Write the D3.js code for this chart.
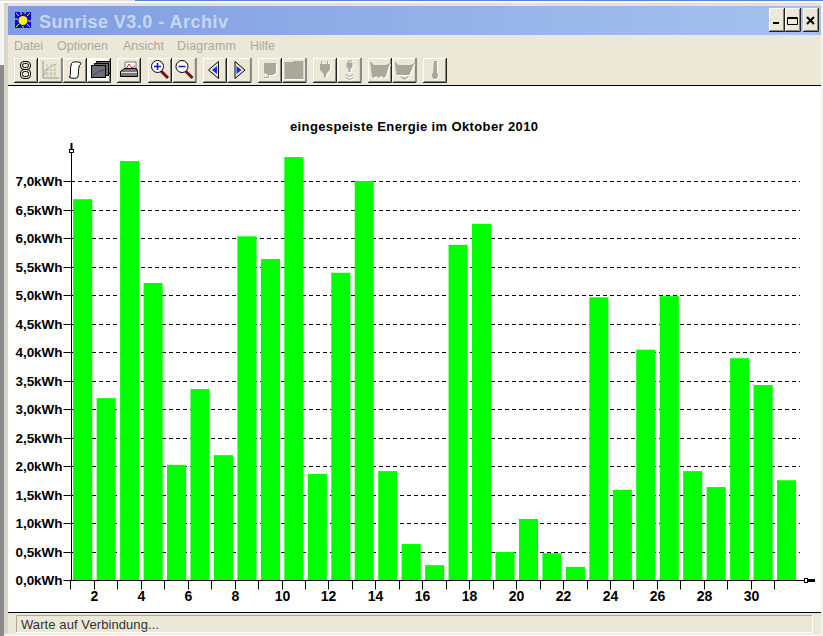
<!DOCTYPE html>
<html>
<head>
<meta charset="utf-8">
<script src="https://cdn.jsdelivr.net/npm/d3@7"></script>
<style>
html, body { margin: 0; padding: 0; background: #fff; overflow: hidden; }
svg { display: block; }
</style>
</head>
<body>
<svg width="823" height="636"></svg>
<script>
const days = d3.range(1, 32);
const energy = [6.68, 3.19, 7.35, 5.21, 2.02, 3.35, 2.19, 6.03, 5.63, 7.42, 1.86, 5.39, 7.0, 1.91, 0.63, 0.26,
    5.88, 6.25, 0.49, 1.07, 0.47, 0.23, 4.96, 1.58, 4.04, 4.98, 1.91, 1.63, 3.89, 3.42, 1.75];
const yTicks = [0, 0.5, 1, 1.5, 2, 2.5, 3, 3.5, 4, 4.5, 5, 5.5, 6, 6.5, 7];
const menuItems = ["Datei", "Optionen", "Ansicht", "Diagramm", "Hilfe"];
const menuX = [14, 57, 123, 177, 250];
const menuW = [29, 51, 41, 59, 25];
const toolX = [14, 38.5, 63, 87, 117, 148, 172.5, 203, 227.5, 258, 282.5, 313, 337.5, 368, 392.5, 423];

const svg = d3.select("svg");
const face = "#ebe8d8";
const off = "#aca899";

// window frame
svg.append("rect").attr("width", 823).attr("height", 636).attr("fill", face);
svg.append("rect").attr("width", 823).attr("height", 6).attr("fill", "#e4e2d6");
svg.append("rect").attr("width", 823).attr("height", 2).attr("y", 1).attr("fill", "#fafafa");
svg.append("rect").attr("x", 135).attr("width", 688).attr("height", 1).attr("fill", "#5f80d8");
svg.append("rect").attr("x", 0).attr("y", 65).attr("width", 4).attr("height", 571).attr("fill", "#8a8a8a");
svg.append("rect").attr("x", 0).attr("y", 3).attr("width", 4).attr("height", 62).attr("fill", "#f4f4f0");
svg.append("rect").attr("x", 4).attr("y", 3).attr("width", 4).attr("height", 633).attr("fill", "#d8d6c8");
svg.append("rect").attr("x", 821).attr("y", 3).attr("width", 2).attr("height", 633).attr("fill", "#f4f4f0");
svg.append("rect").attr("x", 4).attr("y", 634).attr("width", 819).attr("height", 2).attr("fill", "#f4f4f0");

const defs = svg.append("defs");
const titleGrad = defs.append("linearGradient").attr("id", "titleGrad");
titleGrad.append("stop").attr("offset", "0").attr("stop-color", "#7f9de0");
titleGrad.append("stop").attr("offset", "1").attr("stop-color", "#a6c3ee");
svg.append("rect").attr("x", 8).attr("y", 6).attr("width", 813).attr("height", 29).attr("fill", "url(#titleGrad)");

// sun icon
svg.append("rect").attr("x", 15).attr("y", 12).attr("width", 16).attr("height", 16).attr("fill", "#0808d8");
svg.append("circle").attr("cx", 23).attr("cy", 20.5).attr("r", 4.5).attr("fill", "#f7f020");
svg.append("path").attr("d", "M16 13l3 3M30 13l-3 3M16 27l3-3M30 27l-3-3M21 12v3M25 12v2M23 26v2M15 19h3M28 21h3")
    .attr("stroke", "#f7f020").attr("fill", "none");

svg.append("text").attr("x", 39).attr("y", 27.5).text("Sunrise V3.0 - Archiv")
    .attr("font-family", "'Liberation Sans'").attr("font-weight", "bold").attr("font-size", 18)
    .attr("textLength", 189).attr("fill", "#c6d6f4");

// bevelled button
function button(bx, by, w, h, fill) {
    const g = svg.append("g").attr("transform", `translate(${bx},${by})`);
    g.append("rect").attr("width", w).attr("height", h).attr("fill", "#fff");
    g.append("path").attr("d", `M${w - 0.5} 0V${h - 0.5}H0`).attr("fill", "none").attr("stroke", "#222");
    g.append("path").attr("d", `M${w - 1.5} 1V${h - 1.5}H1`).attr("fill", "none").attr("stroke", "#8a8778");
    g.append("rect").attr("x", 1).attr("y", 1).attr("width", w - 3).attr("height", h - 3).attr("fill", fill);
    return g;
}

// window buttons
button(769, 8, 16, 24, face).append("rect").attr("x", 4).attr("y", 14).attr("width", 6).attr("height", 2).attr("fill", "#000");
button(785, 8, 16, 24, face).append("path").attr("d", "M2.5 9.5h10v7h-10zM2.5 10.5h10").attr("fill", "none").attr("stroke", "#000");
button(803, 8, 16, 24, face).append("path").attr("d", "M4 9l7 7M11 9l-7 7").attr("stroke", "#000").attr("stroke-width", 2);

// menu
svg.selectAll(".menu").data(menuItems).enter().append("text")
    .attr("class", "menu").attr("x", (d, i) => menuX[i]).attr("y", 50).text(d => d)
    .attr("textLength", (d, i) => menuW[i])
    .attr("font-family", "'Liberation Sans'").attr("font-size", 12.5).attr("fill", off);

// toolbar icons, coordinates are relative to the button
function gray(g, d) {
    g.append("path").attr("d", d).attr("transform", "translate(1,1)").attr("fill", "#fff");
    g.append("path").attr("d", d).attr("fill", off);
}
const toolIcons = [
    g => {
        g.append("rect").attr("x", 6.5).attr("y", 3.5).attr("width", 10).attr("height", 8).attr("rx", 3.5).attr("fill", "none").attr("stroke", "#000");
        g.append("rect").attr("x", 6.5).attr("y", 11.5).attr("width", 10).attr("height", 9).attr("rx", 3.5).attr("fill", "none").attr("stroke", "#000");
        g.append("rect").attr("x", 8.5).attr("y", 5.5).attr("width", 6).attr("height", 4).attr("rx", 2).attr("fill", "none").attr("stroke", "#000");
        g.append("rect").attr("x", 8.5).attr("y", 13.5).attr("width", 6).attr("height", 5).attr("rx", 2).attr("fill", "none").attr("stroke", "#000");
    },
    g => {
        g.append("path").attr("d", "M4.5 3v17h16M4 12h14M4 16h14M8.5 6v14M12.5 6v14M16.5 6v14").attr("fill", "none").attr("stroke", off).attr("stroke-dasharray", "1,1");
        g.append("path").attr("d", "M4.5 3v17h16M5 18c3-8 7-10 13-12").attr("fill", "none").attr("stroke", off);
    },
    g => {
        g.append("path").attr("d", "M8.5 5.5c1-2 5-2 9-1 1 1 0 2-1 3-2 4 0 8-2 12-1 1-5 1-8 0 2-4 0-9 2-14z")
            .attr("fill", "#fff").attr("stroke", "#000");
    },
    g => {
        g.append("rect").attr("x", 1).attr("y", 1).attr("width", 20).attr("height", 21).attr("fill", "#fbfbf7");
        [[9.5, 3.5], [7.5, 5.5], [4.5, 7.5]].forEach(p => {
            g.append("rect").attr("x", p[0]).attr("y", p[1]).attr("width", 14).attr("height", 12).attr("fill", "#6e6e66").attr("stroke", "#000");
        });
        g.append("path").attr("d", "M6 17c3-1 5-4 11-5").attr("fill", "none").attr("stroke", "#2040d0");
    },
    g => {
        g.append("path").attr("d", "M8 4h11v8H8z").attr("fill", "#fff").attr("stroke", "#777");
        g.append("path").attr("d", "M9 11l3-5 3 4 3-2").attr("fill", "none").attr("stroke", "#e02020");
        g.append("path").attr("d", "M3.5 13.5l4-3h12l1 3v5h-17z").attr("fill", "#777").attr("stroke", "#000");
        g.append("rect").attr("x", 4).attr("y", 14).attr("width", 16).attr("height", 1).attr("fill", "#ddd");
    },
    g => lens(g, "M6 8.5h7M9.5 5v7"),
    g => lens(g, "M6 8.5h7"),
    g => arrow(g, "M15.5 3.5L5.5 12l10 8.5z", "M14 8l-5 4 5 4z"),
    g => arrow(g, "M7.5 3.5L17.5 12l-10 8.5z", "M9 8l5 4-5 4z"),
    g => { gray(g, "M6 5h12v10l-3 2h-4v3H6v-1h4v-2l-4-2z"); },
    g => { gray(g, "M2 4h8l2-1h9v18H2z"); },
    g => { gray(g, "M8 3h1v3h5V3h1v3h2v6l-3 3-2 6-2-6-3-3V6h1z"); },
    g => { gray(g, "M11 2h1v3h1V2h1v3h1v4l-2 2v3h-2v-3l-2-2V5h1zM8 16l4 2 4-2v1l-4 2-4-2zM8 19l4 2 4-2v1l-4 2-4-2z"); },
    g => { gray(g, "M2 3l4 4h12l4-2-4 13-2 2-3-2-2 2-3-2-2 2-2-1z"); },
    g => { gray(g, "M2 3l4 4h12l4-2-5 12H4zM8 18l4 2 4-2v1l-4 3-4-3z"); },
    g => { gray(g, "M11 3h3v12l1 1v3l-2 2h-2l-2-2v-3l1-1z"); }
];
function lens(g, sign) {
    g.append("path").attr("d", "M13 13l7 7").attr("stroke", "#7a1010").attr("stroke-width", 3);
    g.append("circle").attr("cx", 9.5).attr("cy", 8.5).attr("r", 6).attr("fill", "#fff").attr("stroke", "#000");
    g.append("path").attr("d", sign).attr("stroke", "#1010d0").attr("stroke-width", 1.5);
}
function arrow(g, outer, inner) {
    g.append("path").attr("d", outer).attr("fill", face).attr("stroke", "#000");
    g.append("path").attr("d", inner).attr("fill", "#1030e0");
}
toolX.forEach((tx, i) => {
    const g = button(tx, 58, 24, 25, face);
    toolIcons[i](g);
});

// plot area
svg.append("rect").attr("x", 8).attr("y", 85).attr("width", 813).attr("height", 527).attr("fill", "#fff");
svg.append("rect").attr("x", 8).attr("y", 85).attr("width", 813).attr("height", 1).attr("fill", "#000");
svg.append("rect").attr("x", 8).attr("y", 612).attr("width", 813).attr("height", 1).attr("fill", "#000");

// status bar
svg.append("path").attr("d", "M16.5 632V615.5H812").attr("fill", "none").attr("stroke", off);
svg.append("path").attr("d", "M812.5 615V632.5H16").attr("fill", "none").attr("stroke", "#fff");
svg.append("text").attr("x", 21).attr("y", 629).text("Warte auf Verbindung...")
    .attr("font-family", "'Liberation Sans'").attr("font-size", 13).attr("textLength", 138).attr("fill", "#333");

const x = d3.scaleBand().domain(days).range([71.4, 798.7]);
const y = d3.scaleLinear().domain([0, 7]).range([580, 181]);
const snapY = v => Math.round(y(v)) + 0.5;

// gridlines under the bars
svg.selectAll(".grid").data(yTicks.slice(1)).enter().append("line")
    .attr("class", "grid")
    .attr("x1", 71).attr("x2", 800)
    .attr("y1", snapY).attr("y2", snapY)
    .attr("stroke", "#000").attr("stroke-dasharray", "4,3");

svg.selectAll(".bar").data(energy).enter().append("rect")
    .attr("class", "bar")
    .attr("x", (d, i) => x(days[i]) + 1.8)
    .attr("y", d => y(d))
    .attr("width", x.bandwidth() - 4.4)
    .attr("height", d => y(0) - y(d))
    .attr("fill", "#00ff00");

// y axis
const yAxis = d3.axisLeft(y).tickValues(yTicks).tickSize(8).tickPadding(1)
    .tickFormat(d => d3.format(".1f")(d).replace(".", ",") + "kWh");
const yG = svg.append("g").attr("transform", "translate(71.5,0)").call(yAxis);
yG.select(".domain").remove();
yG.selectAll(".tick").attr("transform", d => `translate(0,${snapY(d)})`);
yG.selectAll("line").attr("stroke", "#000");
yG.selectAll("text").attr("font-family", "'Liberation Sans'").attr("font-weight", "bold").attr("font-size", 13.5)
    .attr("textLength", 47).attr("fill", "#000");
svg.append("line").attr("x1", 71.5).attr("x2", 71.5).attr("y1", 149).attr("y2", 580).attr("stroke", "#000");
svg.append("rect").attr("x", 70.5).attr("y", 143).attr("width", 2).attr("height", 6).attr("fill", "#000");
svg.append("rect").attr("x", 69.5).attr("y", 149.5).attr("width", 4).attr("height", 3).attr("fill", "#fff").attr("stroke", "#000");

// x axis
const xAxis = d3.axisBottom(x).tickValues(days).tickSize(9).tickPadding(2)
    .tickFormat(d => d % 2 === 0 && d <= 30 ? d : "");
const xG = svg.append("g").attr("transform", "translate(0,580.5)").call(xAxis);
xG.select(".domain").remove();
xG.selectAll(".tick").attr("transform", d => `translate(${Math.round(x(d)) - 0.5},0)`);
xG.selectAll("line").attr("stroke", "#000");
xG.selectAll("text").attr("font-family", "'Liberation Sans'").attr("font-weight", "bold").attr("font-size", 14).attr("fill", "#000");
svg.append("line").attr("x1", 71).attr("x2", 804).attr("y1", 580.5).attr("y2", 580.5).attr("stroke", "#000");
svg.append("rect").attr("x", 804.5).attr("y", 578.5).attr("width", 3).attr("height", 4).attr("fill", "#fff").attr("stroke", "#000");
svg.append("rect").attr("x", 808).attr("y", 579).attr("width", 7).attr("height", 3).attr("fill", "#000");

// chart title
svg.append("text").attr("x", 414).attr("y", 131).attr("text-anchor", "middle")
    .text("eingespeiste Energie im Oktober 2010")
    .attr("font-family", "'Liberation Sans'").attr("font-weight", "bold").attr("font-size", 13)
    .attr("textLength", 248).attr("fill", "#000");
</script>
</body>
</html>
